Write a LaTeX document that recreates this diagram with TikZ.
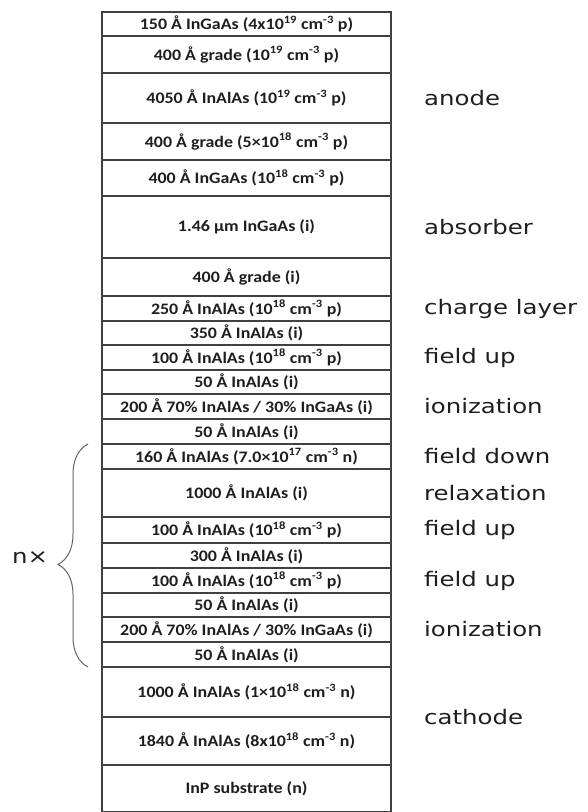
\documentclass[tikz,border=0pt]{standalone}
\usepackage{fontspec}
\setmainfont{Carlito}
\newfontfamily\layerfont[FakeStretch=1.12]{Carlito}
\newfontfamily\labelfont[FakeStretch=1.22]{DejaVu Sans}
\usetikzlibrary{positioning,decorations.pathreplacing}
\definecolor{LineGray}{RGB}{64,64,64}
\definecolor{TextDark}{RGB}{30,30,30}
\definecolor{BraceGray}{RGB}{100,100,100}
\tikzset{
  layer/.style={draw=LineGray, line width=1.5pt, minimum width=289pt, inner sep=0pt, outer sep=0pt,
    text=TextDark, font=\layerfont\fontsize{16}{18}\selectfont\bfseries},
  region/.style={font=\labelfont\fontsize{20}{22}\selectfont, text=TextDark, inner sep=0pt, anchor=west},
}
\begin{document}
\begin{tikzpicture}[x=1pt,y=-1pt]
\useasboundingbox (0,0) rectangle (587,812);
% layer stack, top to bottom
\node[layer, minimum height=24pt] (L1) at (246.5,24) {150 Å InGaAs (4x10\textsuperscript{19} cm\textsuperscript{-3} p)};
\node[layer, minimum height=37pt, below=0pt of L1] (L2) {400 Å grade (10\textsuperscript{19} cm\textsuperscript{-3} p)};
\node[layer, minimum height=50pt, below=0pt of L2] (L3) {4050 Å InAlAs (10\textsuperscript{19} cm\textsuperscript{-3} p)};
\node[layer, minimum height=37pt, below=0pt of L3] (L4) {400 Å grade (5×10\textsuperscript{18} cm\textsuperscript{-3} p)};
\node[layer, minimum height=36pt, below=0pt of L4] (L5) {400 Å InGaAs (10\textsuperscript{18} cm\textsuperscript{-3} p)};
\node[layer, minimum height=62pt, below=0pt of L5] (L6) {1.46 µm InGaAs (i)};
\node[layer, minimum height=38pt, below=0pt of L6] (L7) {400 Å grade (i)};
\node[layer, minimum height=25pt, below=0pt of L7] (L8) {250 Å InAlAs (10\textsuperscript{18} cm\textsuperscript{-3} p)};
\node[layer, minimum height=24pt, below=0pt of L8] (L9) {350 Å InAlAs (i)};
\node[layer, minimum height=25pt, below=0pt of L9] (L10) {100 Å InAlAs (10\textsuperscript{18} cm\textsuperscript{-3} p)};
\node[layer, minimum height=24pt, below=0pt of L10] (L11) {50 Å InAlAs (i)};
\node[layer, minimum height=25pt, below=0pt of L11] (L12) {200 Å 70\% InAlAs / 30\% InGaAs (i)};
\node[layer, minimum height=25pt, below=0pt of L12] (L13) {50 Å InAlAs (i)};
% repeated period
\node[layer, minimum height=25pt, below=0pt of L13] (L14) {160 Å InAlAs (7.0×10\textsuperscript{17} cm\textsuperscript{-3} n)};
\node[layer, minimum height=48pt, below=0pt of L14] (L15) {1000 Å InAlAs (i)};
\node[layer, minimum height=26pt, below=0pt of L15] (L16) {100 Å InAlAs (10\textsuperscript{18} cm\textsuperscript{-3} p)};
\node[layer, minimum height=25pt, below=0pt of L16] (L17) {300 Å InAlAs (i)};
\node[layer, minimum height=25pt, below=0pt of L17] (L18) {100 Å InAlAs (10\textsuperscript{18} cm\textsuperscript{-3} p)};
\node[layer, minimum height=24pt, below=0pt of L18] (L19) {50 Å InAlAs (i)};
\node[layer, minimum height=25pt, below=0pt of L19] (L20) {200 Å 70\% InAlAs / 30\% InGaAs (i)};
\node[layer, minimum height=25pt, below=0pt of L20] (L21) {50 Å InAlAs (i)};
% cathode and substrate
\node[layer, minimum height=50pt, below=0pt of L21] (L22) {1000 Å InAlAs (1×10\textsuperscript{18} cm\textsuperscript{-3} n)};
\node[layer, minimum height=48pt, below=0pt of L22] (L23) {1840 Å InAlAs (8x10\textsuperscript{18} cm\textsuperscript{-3} n)};
\node[layer, minimum height=47pt, below=0pt of L23] (L24) {InP substrate (n)};

% region labels
\node[region, right=33pt of L3] (anode) {anode};
\node[region, right=33pt of L6] (absorber) {absorber};
\node[region, right=33pt of L8] (charge) {charge layer};
\node[region, right=33pt of L10] (fieldup1) {field up};
\node[region, right=33pt of L12] (ion1) {ionization};
\node[region, right=33pt of L14] (fielddown) {field down};
\node[region, right=33pt of L15] (relax) {relaxation};
\node[region, right=33pt of L16] (fieldup2) {field up};
\node[region, right=33pt of L18] (fieldup3) {field up};
\node[region, right=33pt of L20] (ion2) {ionization};
\node[region, right=33pt of L22.south east] (cathode) {cathode};

% period brace
\coordinate (braceB) at ([xshift=-14pt]L21.south west);
\coordinate (braceT) at ([xshift=-14pt]L14.north west);
\draw[BraceGray, line width=1pt, decorate, decoration={brace, amplitude=30pt, aspect=0.46}] (braceB) -- (braceT);
\node[region] (nx) at (12,558) {n×};
\end{tikzpicture}
\end{document}
